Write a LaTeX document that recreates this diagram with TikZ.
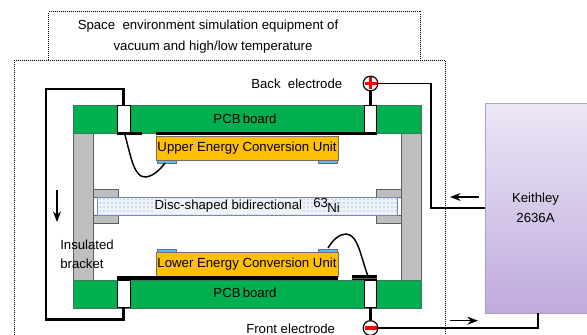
\documentclass[tikz,border=0pt]{standalone}
\usepackage{fontspec}
\setmainfont{Liberation Sans}
\usetikzlibrary{arrows.meta,positioning,calc,patterns}
\tikzset{>=Stealth}
\definecolor{PCBcolor}{RGB}{0,176,80}
\definecolor{PCBedge}{RGB}{60,120,90}
\definecolor{Bracketcolor}{RGB}{190,190,190}
\definecolor{Bracketedge}{RGB}{95,95,95}
\definecolor{Unitcolor}{RGB}{255,192,0}
\definecolor{Unitedge}{RGB}{110,110,110}
\definecolor{Padcolor}{RGB}{90,190,235}
\definecolor{Disccolor}{RGB}{110,140,190}
\definecolor{Discfill}{RGB}{238,243,250}
\definecolor{Keithleytop}{RGB}{236,231,246}
\definecolor{Keithleybot}{RGB}{191,170,221}
\definecolor{Keithleyedge}{RGB}{176,160,200}
\begin{document}
\begin{tikzpicture}[x=0.75pt,y=-0.75pt,every node/.style={font=\fontsize{9.9}{12}\selectfont,inner sep=0pt},
  dotbox/.style={draw=black,densely dotted,line width=0.5pt},
  pcb/.style={fill=PCBcolor,draw=PCBedge,line width=0.5pt},
  bracket/.style={fill=Bracketcolor,draw=Bracketedge,line width=0.7pt},
  via/.style={fill=white,draw=black,line width=0.6pt},
  unit/.style={fill=Unitcolor,draw=Unitedge,line width=0.6pt},
  pad/.style={fill=Padcolor,draw=Unitedge,line width=0.3pt},
  thickwire/.style={draw=black,line width=1.9pt},
  wire/.style={draw=black,line width=1.1pt},
  terminal/.style={circle,draw=black,line width=0.9pt,fill=white,minimum size=11pt}]
\useasboundingbox (0,0) rectangle (587,335);
% chamber outlines
\draw[dotbox] (48.5,59.5) -- (48.5,11.5) -- (420.5,11.5) -- (420.5,59.5);
\draw[dotbox] (14.5,335) -- (14.5,60) -- (445,60) -- (445,335);
\node (chamberA) at (208,26) {Space\ \ environment simulation equipment of};
\node (chamberB) at (213,47) {vacuum and high/low temperature};
% boards and brackets
\draw[bracket] (73,133) rectangle (93,280);
\draw[bracket] (401.7,133) rectangle (421,280);
\foreach \y in {105,280}{
  \draw[pcb] (73,\y) rectangle (421,\y+28);
  \foreach \x in {117.5,364}{
    \draw[via] (\x,\y) rectangle +(12.5,27);
  }
}
\node (pcbtop) at (245,119) {PCB\,board};
\node (pcbbot) at (245,293) {PCB\,board};
% clamps and source disc
\foreach \x in {93,376.7}{
  \foreach \y in {189.7,215.5}{
    \draw[bracket] (\x,\y) rectangle +(25,7.7);
  }
}
\draw[draw=Disccolor,line width=0.7pt,fill=Discfill] (97.5,197.5) rectangle (397,215);
\fill[pattern=dots,pattern color=Disccolor] (97.5,197.5) rectangle (397,215);
\node[anchor=west,fill=Discfill,inner xsep=1pt,inner ysep=1pt] (disc) at (153,206.5) {Disc-shaped bidirectional};
\node[anchor=west] (ni63) at (313,203) {63};
\node[anchor=west] (ni) at (327,208) {Ni};
% conversion units
\fill[black] (117,132) rectangle (142,135.5);
\fill[black] (156,132) rectangle (377,135);
\draw[unit] (156.5,136) rectangle (338,160.5);
\node (upper) at (247,148.5) {Upper Energy Conversion Unit};
\draw[unit] (156.5,252) rectangle (338,276);
\node (lower) at (247,264.5) {Lower Energy Conversion Unit};
\foreach \x in {157,318}{
  \draw[pad] (\x,160.5) rectangle +(19.5,3);
  \draw[pad] (\x,249) rectangle +(19.5,3);
}
\fill[black] (117,276.5) rectangle (338,280);
\fill[black] (352,275.5) rectangle (377,280);
\draw[Bracketedge,line width=0.4pt] (352,278.5) -- (377,278.5);
% bond wires
\draw[wire] (125,135) .. controls (131,157) and (134,177) .. (145,177) .. controls (152,177) and (160,170) .. (165,163);
\draw[wire] (328,248) .. controls (333,240) and (339,234) .. (346,234) .. controls (358,234) and (361,258) .. (368,276);
% leads
\coordinate (topvia) at (123.7,105);
\coordinate (botvia) at (123.7,308);
\coordinate (plusvia) at (370.5,105);
\coordinate (minusvia) at (370.5,308);
\node[terminal] (plus) at (370.5,83.5) {};
\fill[red] ($(plus)+(-6,-1.8)$) rectangle ($(plus)+(6,1.8)$);
\fill[red] ($(plus)+(-1.8,-6)$) rectangle ($(plus)+(1.8,6)$);
\node[terminal] (minus) at (370.5,328) {};
\fill[red] ($(minus)+(-6,-1.8)$) rectangle ($(minus)+(6,1.8)$);
\node[draw=Keithleyedge,line width=0.6pt,top color=Keithleytop,bottom color=Keithleybot,minimum width=78pt,minimum height=157.5pt,anchor=north west] (keithley) at (484.5,103) {};
\draw[thickwire] (topvia) -- (123.7,89) -- (46,89) -- (46,319.5) -- (123.7,319.5) -- (botvia);
\draw[thickwire] (plus) -- (plusvia);
\draw[thickwire] (minus) -- (minusvia);
\draw[wire] (plus) -- (431,83.5) -- (431,208) -- (484.5,208);
\draw[wire] (minus) -- (538,328) -- (538,313);
% labels and arrows
\node[anchor=west] (backlabel) at (251,84) {Back\ \ electrode};
\node[anchor=west] (frontlabel) at (246,329) {Front electrode};
\node[anchor=west] (insA) at (60,245) {Insulated};
\node[anchor=west] (insB) at (60,264) {bracket};
\node (keithA) at (535.5,199) {Keithley};
\node (keithB) at (535.5,218) {2636A};
\draw[->,line width=1.1pt] (479,197) -- (450,197);
\draw[->,line width=1.1pt] (450,320.7) -- (478,320.7);
\draw[->,line width=1.1pt] (57,190) -- (57,222);
\end{tikzpicture}
\end{document}
